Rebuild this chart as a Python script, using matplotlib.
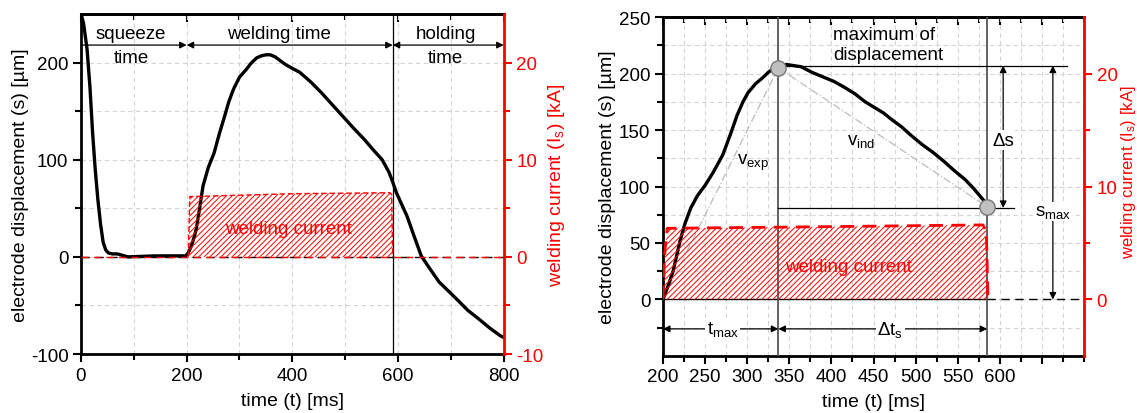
import matplotlib
matplotlib.use("Agg")
import matplotlib.pyplot as plt
from matplotlib.ticker import FixedLocator, MultipleLocator

plt.rcParams['font.family'] = ['Liberation Sans', 'DejaVu Sans']
plt.rcParams['mathtext.fontset'] = 'custom'
plt.rcParams['mathtext.rm'] = 'Liberation Sans'
plt.rcParams['mathtext.it'] = 'Liberation Sans:italic'
plt.rcParams['axes.unicode_minus'] = False
plt.rcParams['hatch.linewidth'] = 0.7
FT = 13.5    # tick labels
FL = 14      # axis labels
FA = 13.5    # annotations

# ---------------- data ----------------
t_left = [0, 5, 11.5, 17, 22, 27, 32, 37, 42, 47, 52, 60, 69, 89, 140, 184, 198, 203, 208, 213, 218,
          224, 231, 241, 252, 262, 272, 280, 289, 300, 313, 323, 333, 342, 350, 358, 367, 377, 387,
          400, 414, 435, 455, 475, 495, 515, 536, 555, 570, 583, 590, 597, 607, 617, 630, 644, 660,
          678, 695, 712, 732, 753, 773, 793, 800]
s_left = [251, 240, 214, 175, 128, 90, 59, 34, 15, 7, 4, 3, 3, 0, 1, 1, 1, 4, 10, 18, 28,
          48, 73, 92, 107, 127, 145, 160, 173, 185, 193, 200, 205, 207, 208, 208, 206, 202, 198,
          194, 190, 180, 169, 157, 145, 133, 121, 109, 100, 87, 77, 66, 54, 42, 22, 1, -12,
          -26, -35, -44, -55, -64, -73, -81, -83]

t_cur_left = [203, 206, 400, 585, 588, 590]
I_cur_left = [0, 6.2, 6.5, 6.6, 6.4, 0]

t_right = [200, 202.5, 207, 212, 216, 220, 226, 233, 241, 250, 260, 271, 280, 288, 295, 301, 310,
           318, 325, 332, 340, 347, 355, 364, 377, 390, 403, 415, 428, 440, 451, 462, 472, 483,
           495, 508, 521, 534, 546, 559, 568, 576, 585]
s_right = [0, 5, 14, 25, 38, 51, 67, 81, 92, 101, 113, 128, 146, 163, 175, 183, 191,
           196, 201, 205, 207, 208, 207, 206, 201, 197, 193, 188, 182, 175, 170, 165, 159, 153,
           145, 137, 130, 122, 114, 106, 99, 92, 84]

t_cur_right = [200, 202, 205, 400, 580, 584, 586]
I_cur_right = [0, 4.0, 6.3, 6.45, 6.6, 6.0, 0]

t_max, s_max = 337, 205
t_end, s_end = 585, 82

left_xticks = [0, 200, 400, 600, 800]
left_yticks = [-100, 0, 100, 200]
left_itick = [-10, 0, 10, 20]
right_xticks = [200, 250, 300, 350, 400, 450, 500, 550, 600, 650]
right_xlabels = ['200', '250', '300', '350', '400', '450', '500', '550', '600', '']
right_yticks = [0, 50, 100, 150, 200, 250]
right_itick = [0, 10, 20]

# ---------------- figure ----------------
fig = plt.figure(figsize=(11.37, 4.14), dpi=100)
axL = fig.add_axes([0.0712, 0.1425, 0.3718, 0.8213])
axR = fig.add_axes([0.5831, 0.1377, 0.3703, 0.8188])

GRID = dict(color='#d4d4d4', linestyle=(0, (4, 3)), linewidth=0.8)


def style(ax, tw):
    for sp in ['left', 'bottom', 'top']:
        ax.spines[sp].set_linewidth(2)
        ax.spines[sp].set_color('black')
    ax.spines['right'].set_visible(False)
    for sp in ['left', 'bottom', 'top']:
        tw.spines[sp].set_visible(False)
    tw.spines['right'].set_color('red')
    tw.spines['right'].set_linewidth(2)
    ax.tick_params(which='both', direction='out', labelsize=FT, width=1.5, pad=3)
    ax.tick_params(which='major', length=6)
    ax.tick_params(which='minor', length=4)
    tw.tick_params(which='both', direction='out', colors='red', labelsize=FT, width=1.5, pad=3)
    tw.tick_params(which='major', length=6)
    tw.tick_params(which='minor', length=4)
    sec = ax.secondary_xaxis('top')
    sec.tick_params(which='both', direction='in', labeltop=False, width=1.5)
    sec.tick_params(which='major', length=6)
    sec.tick_params(which='minor', length=4)
    sec.spines['top'].set_linewidth(2)
    return sec


# ---------- left panel ----------
axL.set_xlim(0, 800)
axL.set_ylim(-100, 250)
twL = axL.twinx()
twL.set_ylim(-10, 25)
secL = style(axL, twL)
axL.xaxis.set_major_locator(FixedLocator(left_xticks))
axL.xaxis.set_minor_locator(FixedLocator([100, 300, 500, 700]))
secL.xaxis.set_major_locator(FixedLocator(left_xticks))
secL.xaxis.set_minor_locator(FixedLocator([100, 300, 500, 700]))
axL.yaxis.set_major_locator(FixedLocator(left_yticks))
axL.yaxis.set_minor_locator(FixedLocator([-50, 50, 150]))
twL.yaxis.set_major_locator(FixedLocator(left_itick))
twL.yaxis.set_minor_locator(FixedLocator([-5, 5, 15]))
axL.grid(True, which='both', **GRID)
axL.set_axisbelow(True)

axL.axhline(0, color='black', lw=1, ls=(0, (6, 4)), zorder=2)
twL.fill_between(t_cur_left, 0, I_cur_left, facecolor='none', edgecolor='red',
                 hatch='//////', linewidth=0, zorder=1)
twL.plot(t_cur_left, I_cur_left, color='red', lw=1, ls=(0, (4, 2)), zorder=2)
twL.plot([0, 800], [0, 0], color='red', lw=1, ls=(0, (5, 4)), zorder=2)
axL.plot(t_left, s_left, color='black', lw=2.4, zorder=5)
axL.axvline(590, color='black', lw=0.9, zorder=4)

arr = dict(arrowstyle='-|>', color='black', lw=0.9, mutation_scale=10, shrinkA=0, shrinkB=0)
arr2 = dict(arrowstyle='<|-|>', color='black', lw=0.9, mutation_scale=10, shrinkA=0, shrinkB=0)
axL.annotate('', xy=(200, 218), xytext=(0, 218), arrowprops=arr, zorder=6)
axL.annotate('', xy=(590, 218), xytext=(200, 218), arrowprops=arr2, zorder=6)
axL.annotate('', xy=(800, 218), xytext=(590, 218), arrowprops=arr2, zorder=6)
axL.text(95, 230, 'squeeze', ha='center', va='center', fontsize=FA, zorder=6)
axL.text(95, 205, 'time', ha='center', va='center', fontsize=FA, zorder=6)
axL.text(375, 230, 'welding time', ha='center', va='center', fontsize=FA, zorder=6)
axL.text(690, 230, 'holding', ha='center', va='center', fontsize=FA, zorder=6)
axL.text(690, 205, 'time', ha='center', va='center', fontsize=FA, zorder=6)
axL.text(392, 29, 'welding current', color='red', ha='center', va='center', fontsize=FA, zorder=6)

axL.set_xlabel('time (t) [ms]', fontsize=FL, va='center')
axL.xaxis.set_label_coords(0.5, -0.138)
axL.set_ylabel('electrode displacement (s) [µm]', fontsize=FL, va='center')
axL.yaxis.set_label_coords(-0.144, 0.5)
twL.set_ylabel('welding current (I$_\\mathrm{s}$) [kA]', color='red', fontsize=FL, va='center')
twL.yaxis.set_label_coords(1.125, 0.5)

# ---------- right panel ----------
axR.set_xlim(200, 700)
axR.set_ylim(-50, 250)
twR = axR.twinx()
twR.set_ylim(-5, 25)
secR = style(axR, twR)
axR.xaxis.set_major_locator(FixedLocator(right_xticks))
axR.set_xticklabels(right_xlabels)
axR.xaxis.set_minor_locator(MultipleLocator(25))
secR.xaxis.set_major_locator(FixedLocator(right_xticks))
secR.xaxis.set_minor_locator(MultipleLocator(25))
axR.yaxis.set_major_locator(FixedLocator(right_yticks))
axR.yaxis.set_minor_locator(FixedLocator([-25, 25, 75, 125, 175, 225]))
twR.yaxis.set_major_locator(FixedLocator(right_itick))
twR.yaxis.set_minor_locator(FixedLocator([5, 15]))
axR.grid(True, which='both', **GRID)
axR.set_axisbelow(True)

twR.fill_between(t_cur_right, 0, I_cur_right, facecolor='none', edgecolor='red',
                 hatch='//////', linewidth=0, zorder=1)
twR.plot(t_cur_right, I_cur_right, color='red', lw=2, ls=(0, (5, 3)), zorder=2)
axR.plot([200, t_end], [0, 0], color='black', lw=1, zorder=3)
axR.plot([t_end, 700], [0, 0], color='black', lw=1, ls=(0, (6, 4)), zorder=3)

axR.axvline(t_max, color='#555555', lw=1.3, zorder=4)
axR.axvline(t_end, color='#555555', lw=1.3, zorder=4)
axR.plot([t_max, 680], [207, 207], color='black', lw=0.9, zorder=4)
axR.plot([t_max, 617], [81, 81], color='black', lw=0.9, zorder=4)
axR.plot([200, t_max], [0, s_max], color='#bbbbbb', lw=0.9, ls='-.', zorder=3)
axR.plot([t_max, t_end], [s_max, s_end], color='#bbbbbb', lw=0.9, ls='-.', zorder=3)
axR.plot(t_right, s_right, color='black', lw=2.4, zorder=5)
axR.plot([t_max, t_end], [s_max, s_end], 'o', ms=11, mfc='#c0c0c0', mec='#777777', mew=1, zorder=6)

axR.annotate('', xy=(604, 207), xytext=(604, 81), arrowprops=arr2, zorder=6)
axR.annotate('', xy=(663, 207), xytext=(663, 0), arrowprops=arr2, zorder=6)
axR.annotate('', xy=(200, -26), xytext=(t_max, -26), arrowprops=arr2, zorder=6)
axR.annotate('', xy=(t_max, -26), xytext=(t_end, -26), arrowprops=arr2, zorder=6)
axR.text(604, 141, 'Δs', ha='center', va='center', fontsize=FA,
         bbox=dict(facecolor='white', edgecolor='none', pad=1), zorder=7)
axR.text(663, 78, 's$_\\mathrm{max}$', ha='center', va='center', fontsize=FA,
         bbox=dict(facecolor='white', edgecolor='none', pad=1), zorder=7)
axR.text(271, -26, 't$_\\mathrm{max}$', ha='center', va='center', fontsize=FA,
         bbox=dict(facecolor='white', edgecolor='none', pad=1), zorder=7)
axR.text(470, -26, 'Δt$_\\mathrm{s}$', ha='center', va='center', fontsize=FA,
         bbox=dict(facecolor='white', edgecolor='none', pad=1), zorder=7)
axR.text(402, 226, 'maximum of\ndisplacement', ha='left', va='center', fontsize=FA,
         linespacing=1.25, zorder=7)
axR.text(288, 122, 'v$_\\mathrm{exp}$', ha='left', va='center', fontsize=FA, zorder=7)
axR.text(419, 141, 'v$_\\mathrm{ind}$', ha='left', va='center', fontsize=FA, zorder=7)
axR.text(345, 29, 'welding current', color='red', ha='left', va='center', fontsize=FA, zorder=7)

axR.set_xlabel('time (t) [ms]', fontsize=FL, va='center')
axR.xaxis.set_label_coords(0.5, -0.133)
axR.set_ylabel('electrode displacement (s) [µm]', fontsize=FL, va='center')
axR.yaxis.set_label_coords(-0.131, 0.5)
twR.set_ylabel('welding current (I$_\\mathrm{s}$) [kA]', color='red', fontsize=12, va='center')
twR.yaxis.set_label_coords(1.105, 0.546)

fig.savefig('out.png', dpi=100)
